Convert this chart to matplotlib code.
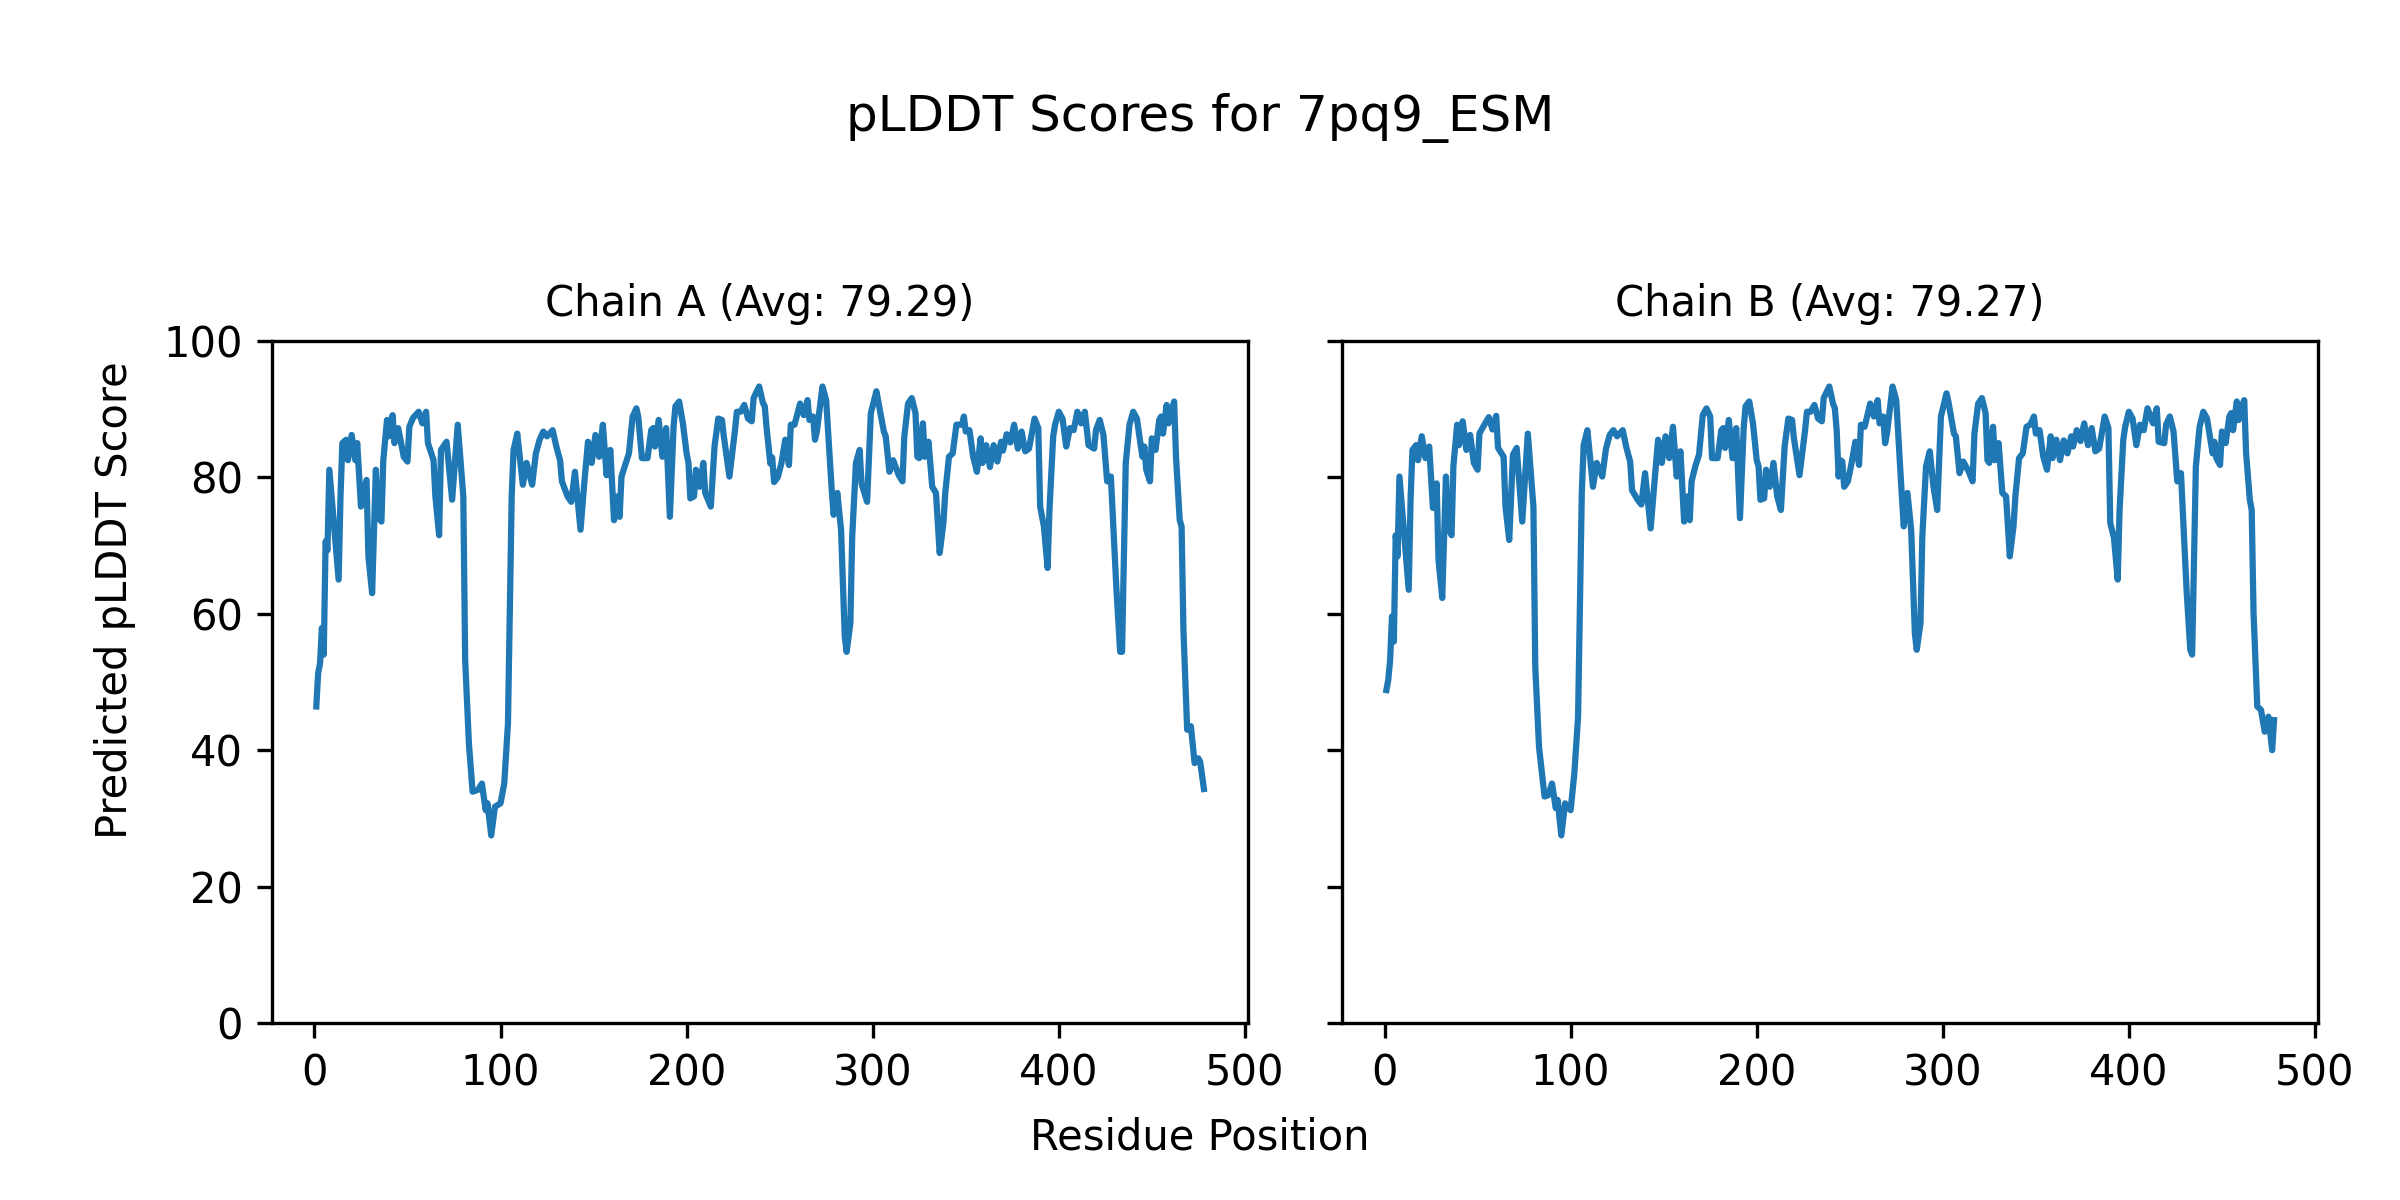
import matplotlib
matplotlib.use("Agg")
import matplotlib.pyplot as plt

# values (residue position, pLDDT)
res_a = [1, 2, 3, 4, 5, 6, 7, 8, 13, 14, 15, 17, 18, 20, 22, 23, 25, 28, 29, 31,
         33, 34, 36, 37, 39, 40, 42, 43, 45, 48, 50, 51, 53, 56, 58, 60, 61, 64, 65, 67,
         68, 71, 74, 77, 80, 81, 83, 85, 88, 90, 92, 93, 95, 97, 100, 102, 104, 106, 107, 109,
         112, 114, 117, 119, 121, 123, 125, 128, 130, 132, 133, 136, 138, 140, 143, 145, 147, 149, 151, 153,
         155, 157, 159, 161, 163, 164, 165, 167, 169, 171, 173, 174, 176, 179, 181, 182, 183, 185, 187, 189,
         191, 193, 194, 196, 198, 200, 201, 202, 204, 205, 207, 209, 210, 213, 215, 217, 219, 220, 223, 226,
         227, 229, 231, 233, 235, 236, 239, 241, 242, 243, 245, 246, 247, 249, 251, 253, 255, 256, 258, 261,
         263, 265, 266, 268, 269, 270, 273, 275, 278, 279, 281, 283, 285, 286, 288, 289, 291, 293, 294, 297,
         299, 302, 303, 306, 307, 309, 311, 314, 316, 317, 319, 321, 323, 324, 325, 327, 328, 330, 332, 334,
         336, 338, 339, 341, 343, 345, 348, 349, 350, 352, 354, 356, 358, 359, 361, 363, 365, 367, 369, 370,
         372, 374, 376, 378, 380, 382, 384, 387, 389, 390, 392, 394, 395, 397, 398, 400, 402, 404, 406, 408,
         410, 412, 414, 416, 419, 420, 422, 424, 426, 428, 431, 433, 434, 436, 438, 440, 442, 444, 445, 446,
         447, 449, 450, 452, 454, 455, 456, 458, 459, 461, 462, 463, 465, 466, 467, 469, 471, 473, 475, 476,
         478]
plddt_a = [46.4, 51.3, 52.7, 57.9, 54.0, 70.6, 69.3, 81.1, 65.0, 77.2, 85.0, 85.5, 82.5, 86.2, 82.5, 85.0, 75.7, 79.6, 68.4, 63.0,
           81.1, 74.2, 73.5, 82.5, 88.4, 86.0, 89.1, 85.0, 87.2, 83.0, 82.3, 87.4, 88.7, 89.6, 87.9, 89.6, 85.0, 82.5, 77.2, 71.5,
           84.0, 85.2, 76.7, 87.7, 77.2, 53.2, 41.0, 33.9, 34.2, 35.1, 31.2, 32.2, 27.5, 31.7, 32.2, 35.1, 43.9, 77.2, 84.0, 86.4,
           78.9, 82.1, 78.9, 83.5, 85.5, 86.7, 86.0, 86.9, 84.5, 82.5, 79.4, 77.2, 76.4, 80.8, 72.3, 79.1, 85.2, 82.1, 86.2, 83.0,
           87.7, 80.3, 84.0, 73.7, 77.2, 74.2, 80.1, 81.8, 83.5, 88.9, 90.1, 88.9, 82.8, 82.8, 86.9, 87.2, 84.5, 88.4, 83.0, 87.2,
           74.2, 87.4, 90.4, 91.1, 87.9, 83.5, 82.1, 76.9, 77.2, 81.1, 78.6, 82.1, 77.7, 75.7, 84.5, 88.6, 88.4, 86.0, 80.1, 86.9,
           89.6, 89.6, 90.6, 88.6, 88.2, 91.6, 93.3, 90.9, 90.4, 87.2, 82.0, 82.9, 79.3, 80.0, 82.1, 85.5, 81.8, 87.7, 87.7, 90.8,
           89.1, 91.3, 88.4, 88.9, 85.5, 86.7, 93.3, 91.3, 78.1, 74.5, 77.7, 72.3, 56.6, 54.4, 58.6, 71.3, 82.1, 84.0, 79.1, 76.4,
           89.4, 92.6, 91.1, 86.7, 86.0, 80.8, 82.5, 80.3, 79.4, 86.0, 90.8, 91.6, 89.4, 83.0, 82.8, 87.9, 83.0, 85.2, 78.6, 77.7,
           68.9, 73.3, 77.7, 83.0, 83.5, 87.7, 87.7, 88.9, 86.7, 86.9, 83.0, 80.8, 85.7, 82.1, 84.7, 81.5, 84.7, 82.3, 85.2, 83.9,
           86.3, 85.1, 87.7, 84.2, 86.7, 83.8, 84.2, 88.6, 87.2, 75.7, 72.8, 66.7, 75.2, 86.0, 87.7, 89.6, 88.6, 84.5, 87.2, 86.9,
           89.6, 87.9, 89.6, 84.7, 84.2, 86.9, 88.4, 86.2, 79.4, 80.1, 63.5, 54.4, 54.4, 82.1, 87.7, 89.6, 88.6, 84.7, 83.0, 84.5,
           81.1, 79.4, 85.7, 84.0, 88.4, 88.9, 86.4, 90.6, 87.9, 90.1, 91.1, 83.0, 73.7, 72.8, 57.6, 43.0, 43.5, 38.1, 38.8, 38.3,
           34.3]

res_b = [1, 2, 3, 4, 5, 6, 7, 8, 13, 14, 15, 17, 18, 20, 22, 24, 26, 28, 29, 31,
         33, 34, 36, 37, 39, 40, 42, 44, 46, 48, 50, 51, 53, 56, 58, 60, 61, 64, 65, 67,
         69, 71, 74, 77, 80, 81, 83, 86, 88, 90, 92, 93, 95, 97, 100, 102, 104, 106, 107, 109,
         112, 114, 117, 119, 121, 123, 125, 128, 130, 132, 133, 136, 138, 140, 143, 145, 147, 149, 151, 153,
         155, 157, 159, 161, 163, 164, 165, 167, 169, 171, 173, 175, 176, 179, 181, 182, 183, 185, 187, 189,
         191, 193, 194, 196, 198, 200, 201, 202, 204, 205, 207, 209, 211, 213, 215, 217, 219, 220, 223, 226,
         227, 229, 231, 233, 235, 236, 239, 241, 242, 243, 244, 245, 246, 247, 249, 251, 253, 255, 256, 258,
         261, 263, 265, 266, 268, 269, 270, 273, 275, 278, 279, 281, 283, 285, 286, 288, 289, 291, 293, 295,
         297, 299, 302, 303, 306, 307, 309, 311, 314, 316, 317, 319, 321, 323, 324, 325, 327, 328, 330, 332,
         334, 336, 338, 339, 341, 343, 345, 347, 349, 350, 352, 354, 356, 358, 359, 361, 363, 365, 367, 369,
         370, 372, 374, 376, 378, 380, 382, 384, 387, 389, 390, 392, 394, 395, 397, 398, 400, 402, 404, 406,
         408, 410, 413, 415, 416, 419, 420, 422, 424, 426, 428, 431, 433, 434, 436, 438, 440, 442, 444, 445,
         446, 447, 449, 450, 452, 454, 455, 456, 458, 459, 461, 462, 463, 465, 466, 467, 469, 471, 473, 475,
         477, 478]
plddt_b = [48.8, 50.3, 53.2, 59.6, 55.9, 71.5, 68.4, 80.1, 63.5, 76.9, 84.0, 84.7, 82.5, 86.0, 82.8, 84.5, 75.5, 79.1, 67.9, 62.3,
           80.1, 72.8, 71.5, 81.6, 87.7, 84.7, 88.2, 84.0, 86.2, 82.1, 81.1, 86.4, 87.4, 88.8, 87.0, 89.0, 84.3, 83.0, 75.7, 70.8,
           83.3, 84.3, 73.5, 86.4, 75.7, 52.2, 40.5, 33.2, 33.4, 35.1, 31.5, 32.7, 27.5, 32.2, 31.2, 36.6, 44.9, 77.7, 84.7, 86.9,
           78.6, 82.1, 80.1, 84.2, 86.2, 86.9, 86.0, 86.9, 84.3, 82.3, 78.1, 76.7, 76.0, 80.6, 72.5, 79.1, 85.5, 82.1, 86.0, 82.8,
           87.4, 80.1, 83.8, 73.5, 77.2, 73.7, 79.4, 81.6, 83.3, 89.1, 90.1, 88.9, 82.8, 82.8, 86.9, 87.2, 84.3, 88.4, 82.8, 87.2,
           74.0, 87.2, 90.4, 91.1, 87.9, 82.5, 81.6, 76.7, 76.9, 81.1, 78.6, 82.1, 77.2, 75.2, 84.5, 88.6, 88.4, 85.7, 80.3, 86.9,
           89.6, 89.6, 90.6, 88.6, 88.2, 91.6, 93.3, 90.8, 90.1, 86.8, 80.1, 82.5, 82.3, 78.6, 79.4, 82.1, 85.2, 81.8, 87.7, 87.4,
           90.8, 88.9, 91.3, 87.9, 88.9, 85.0, 86.4, 93.3, 91.3, 77.2, 72.8, 77.7, 72.3, 57.1, 54.7, 58.6, 71.3, 81.6, 83.8, 78.6,
           75.2, 88.9, 92.3, 91.1, 86.4, 86.0, 80.6, 82.3, 80.8, 79.4, 86.4, 90.8, 91.6, 89.4, 82.5, 82.1, 87.4, 82.5, 85.0, 77.7,
           77.2, 68.4, 72.8, 77.2, 82.8, 83.5, 87.4, 87.7, 88.9, 86.4, 86.9, 83.0, 81.1, 86.0, 82.8, 85.5, 82.5, 85.4, 83.5, 86.0,
           84.5, 86.9, 85.3, 87.9, 84.7, 87.2, 83.8, 84.2, 88.9, 87.2, 73.3, 71.1, 65.0, 75.2, 85.5, 87.4, 89.6, 88.6, 84.7, 87.7,
           86.9, 90.1, 87.9, 90.1, 85.2, 85.0, 87.7, 88.9, 86.7, 79.4, 80.6, 63.5, 54.7, 54.0, 81.6, 87.4, 89.6, 88.6, 85.2, 83.5,
           85.2, 82.8, 81.8, 86.7, 85.0, 88.9, 89.4, 86.9, 91.1, 88.4, 90.6, 91.3, 83.5, 76.7, 75.2, 60.1, 46.4, 45.9, 42.7, 44.9,
           40.0, 44.4]

chain_titles = ["Chain A (Avg: 79.29)", "Chain B (Avg: 79.27)"]

fig, axes = plt.subplots(1, 2, sharey=True, figsize=(8, 4), dpi=300)
fig.subplots_adjust(left=0.1133, right=0.966, bottom=0.1475, top=0.716, wspace=0.096)

for ax, x, y, t in zip(axes, [res_a, res_b], [plddt_a, plddt_b], chain_titles):
    ax.plot(x, y, color="#1f77b4", lw=1.5)
    ax.set_title(t, fontsize=10)
    ax.set_ylim(0, 100)

fig.suptitle("pLDDT Scores for 7pq9_ESM", fontsize=12, y=0.902, va="center")
fig.supxlabel("Residue Position", fontsize=10, y=0.0525, va="center")
fig.supylabel("Predicted pLDDT Score", fontsize=10, x=0.048, ha="center")

fig.savefig("out.png", dpi=300)
